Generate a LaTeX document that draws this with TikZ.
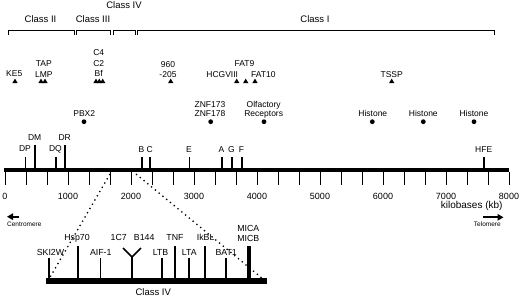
\documentclass[tikz,border=0pt]{standalone}
\usepackage{fontspec}
\setmainfont{Liberation Sans}
\usetikzlibrary{arrows.meta, positioning}

\begin{document}
\begin{tikzpicture}[x=1pt, y=-1pt,
  classlbl/.style={font=\fontsize{9.5}{11}\selectfont, anchor=base, inner sep=0pt},
  genelbl/.style={font=\fontsize{8.5}{10.5}\selectfont, anchor=base, inner sep=0pt, align=center},
  dotlbl/.style={font=\fontsize{8.5}{9}\selectfont, anchor=base, inner sep=0pt, align=center},
  sublbl/.style={font=\fontsize{8.8}{10}\selectfont, anchor=base, inner sep=0pt, align=center},
  ticklbl/.style={font=\fontsize{9}{10}\selectfont, anchor=base, inner sep=0pt},
  endlbl/.style={font=\fontsize{6.5}{7}\selectfont, anchor=base, inner sep=0pt},
  geneline/.style={line width=1.6pt},
  bracket/.style={line width=0.9pt},
  zoomline/.style={line width=1.3pt, dash pattern=on 1.3pt off 3.6pt},
  endarrow/.style={-{Triangle[length=6pt, width=6.5pt]}, line width=2.2pt}
]
\useasboundingbox (0,0) rectangle (520,298);

\foreach \a/\b in {8/74, 76.7/110, 113.3/135, 137.3/494.3}
  \draw[bracket] (\a,35) |- (\b,30) -- (\b,35);
\node[classlbl] (class2) at (40.5,22.7) {Class II};
\node[classlbl] (class3) at (93,22.7) {Class III};
\node[classlbl] (class4) at (124,8.3) {Class IV};
\node[classlbl] (class1) at (315,22.7) {Class I};

\foreach \x in {15, 41, 45, 96, 99.3, 102.7, 170.7, 236.7, 245.7, 255, 391.7}
  \fill (\x-2.6,83) -- (\x+2.6,83) -- (\x,78.6) -- cycle;
\node[genelbl] (ke5) at (14.2,76.7) {KE5};
\node[genelbl] (tap) at (43.8,77.3) {TAP\\LMP};
\node[genelbl] (c4) at (98.7,76.7) {C4\\C2\\Bf};
\node[genelbl] (p960) at (168,77.7) {960\\-205};
\node[genelbl] (fat9) at (244.5,66.7) {FAT9};
\node[genelbl] (hcgviii) at (222.2,77.3) {HCGVIII};
\node[genelbl] (fat10) at (263.3,77.3) {FAT10};
\node[genelbl] (tssp) at (391.7,77.3) {TSSP};

\foreach \x in {84, 210.7, 264, 372.3, 423.3, 474}
  \fill (\x,121.7) circle (2.4);
\node[dotlbl] (pbx2) at (84.2,116) {PBX2};
\node[dotlbl] (znf) at (210,116.7) {ZNF173\\ZNF178};
\node[dotlbl] (olf) at (263.7,116.7) {Olfactory\\Receptors};
\node[dotlbl] (hist1) at (372.8,116.7) {Histone};
\node[dotlbl] (hist2) at (423.3,116.7) {Histone};
\node[dotlbl] (hist3) at (474,116.7) {Histone};

\node[fill=black, inner sep=0pt, minimum width=504.5pt, minimum height=4pt] (chrom) at (256.25,170) {};
\foreach \x/\t/\g in {25.3/156.7/DP, 35/145/DM, 55.7/156.7/DQ, 65/145/DR, 141.7/157/B,
    150/157/C, 189.3/157/E, 221.7/157/A, 231.7/157/G, 241.7/157/F, 484/157/HFE} {
  \draw[geneline] (\x,168) -- (\x,\t);
  \node[genelbl] (\g) at (\x-0.3,\t-4.8) {\g};
}
\foreach \i in {0,...,24}
  \draw[line width=1pt] (5+\i*21,172) -- (5+\i*21,185);
\foreach \k in {0,...,8}
  \node[ticklbl] (tick\k) at (5+\k*63,199.5) {\ifnum\k=0 0\else\k000\fi};
\node[font=\fontsize{10}{11}\selectfont, anchor=base, inner sep=0pt] (kb) at (471.7,208.3) {kilobases (kb)};

\draw[endarrow] (19,216.7) -- (7,216.7);
\node[endlbl] (centromere) at (24.3,226.7) {Centromere};
\draw[endarrow] (483,217.3) -- (503.5,217.3);
\node[endlbl] (telomere) at (487.3,226.7) {Telomere};

\node[fill=black, inner sep=0pt, minimum width=220.7pt, minimum height=5.7pt] (sub4) at (156.35,281.15) {};
\node[classlbl] (sub4lbl) at (153.3,295) {Class IV};
\coordinate (zoomL) at (110,174);
\coordinate (zoomR) at (136,174);
\coordinate (subL) at (49,279);
\coordinate (subR) at (263,279);
\draw[zoomline] (zoomL) -- (subL);
\draw[zoomline] (zoomR) -- (subR);

\foreach \x/\t in {49/257.7, 77.7/245.7, 100.3/257.7, 161.7/257.7, 175/245.7,
    189/257.7, 205/245.7, 226/257.7}
  \draw[geneline] (\x,279) -- (\x,\t);
\draw[line width=3.2pt] (249,279) -- (249,245.7);
\draw[geneline, line join=miter] (132,279) -- (132,257) (123,248) -- (132,257) -- (141,248);
\node[sublbl] (ski2w) at (50.5,255.5) {SKI2W};
\node[sublbl] (hsp70) at (77,240.5) {Hsp70};
\node[sublbl] (aif1) at (100.8,255.5) {AIF-1};
\node[sublbl] (n1c7) at (118.8,240.5) {1C7};
\node[sublbl] (b144) at (144.2,240.5) {B144};
\node[sublbl] (ltb) at (160.5,255.5) {LTB};
\node[sublbl] (tnf) at (175,240.5) {TNF};
\node[sublbl] (lta) at (189.2,255.5) {LTA};
\node[sublbl] (ikbl) at (205.7,240.5) {IkBL};
\node[sublbl] (bat1) at (226.2,255.5) {BAT1};
\node[sublbl] (mica) at (248.3,241.5) {MICA\\MICB};
\end{tikzpicture}
\end{document}
